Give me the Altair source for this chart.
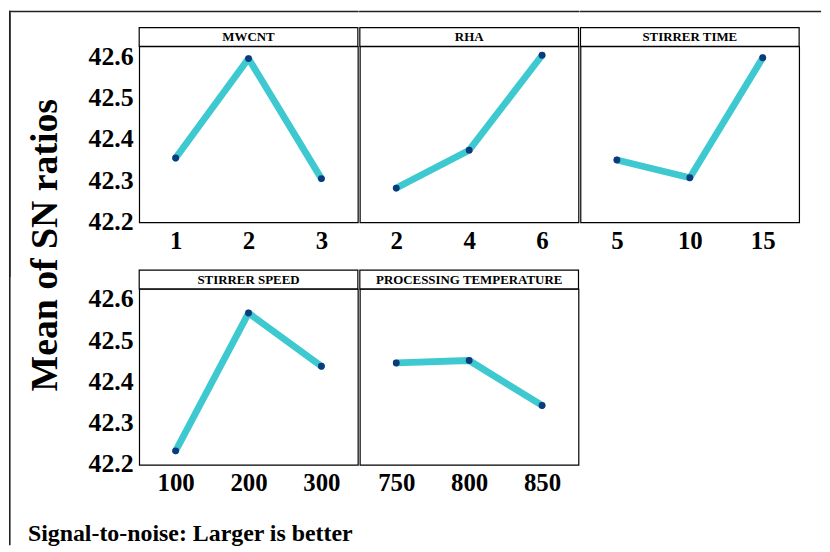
import altair as alt
import pandas as pd

FONT = "Liberation Serif"
CYAN = "#3ec9d1"
NAVY = "#0b3b7c"
BORDER = "#222222"

factor_names = ["MWCNT", "RHA", "STIRRER TIME", "STIRRER SPEED", "PROCESSING TEMPERATURE"]

mwcnt_levels = [1, 2, 3]
mwcnt_sn = [42.354, 42.595, 42.304]

rha_levels = [2, 4, 6]
rha_sn = [42.281, 42.373, 42.603]

time_levels = [5, 10, 15]
time_sn = [42.349, 42.306, 42.597]

speed_levels = [100, 200, 300]
speed_sn = [42.232, 42.566, 42.437]

temp_levels = [750, 800, 850]
temp_sn = [42.445, 42.451, 42.342]

y_title = "Mean of SN ratios"
footer = "Signal-to-noise: Larger is better"

y_ticks = [42.2, 42.3, 42.4, 42.5, 42.6]
y_domain = [42.198, 42.6245]

PW, PH, HH = 220, 177, 19      # panel plot size and strip height
ROW_GAP = 242                  # distance between the tops of the two rows of plots
FRAME_L = -131                 # outer frame, relative to the left edge of the first column
FRAME_T = -36                  # outer frame, relative to the top of the first row
ROW1_BOTTOM = 232
ROW2_TOP = 278                 # row 2 frame piece reaches up to the outer frame top
ROW2_BOTTOM = 258


def one_row():
    return pd.DataFrame({"a": [0]})


def frect(x1, x2, y1, y2):
    return alt.Chart(one_row()).mark_rect(color=BORDER).encode(
        x=alt.value(x1), x2=alt.value(x2), y=alt.value(y1), y2=alt.value(y2))


def text_at(t, x, y, **kw):
    return alt.Chart(pd.DataFrame({"t": [t]})).mark_text(
        font=FONT, fontWeight="bold", color="black", baseline="middle", **kw
    ).encode(text="t:N", x=alt.value(x), y=alt.value(y))


def panel(name, levels, sn, show_y, extras=()):
    lv = [str(v) for v in levels]
    df = pd.DataFrame({"level": lv, "sn": sn})
    x = alt.X(
        "level:O",
        sort=lv,
        scale=alt.Scale(type="point", padding=0.5),
        axis=alt.Axis(title=None, labelAngle=0, ticks=False, domain=False,
                      labelPadding=6, labelFont=FONT, labelFontSize=25,
                      labelFontWeight="bold", labelColor="black"),
    )
    if show_y:
        yaxis = alt.Axis(title=None, values=y_ticks, format=".1f", ticks=False,
                         domain=False, grid=False, labelPadding=6, labelFont=FONT,
                         labelFontSize=26, labelFontWeight="bold", labelColor="black")
    else:
        yaxis = None
    y = alt.Y("sn:Q", scale=alt.Scale(domain=y_domain, nice=False, zero=False), axis=yaxis)
    base = alt.Chart(df).encode(x=x, y=y)
    line = base.mark_line(color=CYAN, strokeWidth=6.8, strokeJoin="round", strokeCap="round")
    pts = base.mark_point(filled=True, size=48, color=NAVY, opacity=1)
    strip = alt.Chart(one_row()).mark_rect(fill="white", stroke="black", strokeWidth=1.2).encode(
        x=alt.value(0), x2=alt.value(PW), y=alt.value(-HH), y2=alt.value(0))
    label = text_at(name, PW / 2, -HH / 2 + 0.5, fontSize=13)
    return alt.layer(strip, label, line, pts, *extras).properties(width=PW, height=PH)


top_t = (FRAME_T, FRAME_T + 1.6)

row1 = alt.hconcat(
    panel(factor_names[0], mwcnt_levels, mwcnt_sn, True, extras=[
        frect(FRAME_L, PW + 0.8, *top_t),
        frect(FRAME_L, FRAME_L + 1.6, FRAME_T, ROW1_BOTTOM),
    ]),
    panel(factor_names[1], rha_levels, rha_sn, False, extras=[frect(-0.8, PW + 0.8, *top_t)]),
    panel(factor_names[2], time_levels, time_sn, False, extras=[frect(-0.8, PW + 22, *top_t)]),
    spacing=-4,
)
row2 = alt.hconcat(
    panel(factor_names[3], speed_levels, speed_sn, True, extras=[
        frect(FRAME_L, FRAME_L + 1.6, -ROW2_TOP, ROW2_BOTTOM),
        text_at(y_title, 45 - 139, 242 - 286, fontSize=38, angle=270, align="center"),
        text_at(footer, 27 - 139, 533 - 286, fontSize=24, align="left"),
    ]),
    panel(factor_names[4], temp_levels, temp_sn, False),
    spacing=-4,
)

chart = alt.vconcat(row1, row2, spacing=ROW_GAP - ROW1_BOTTOM - ROW2_TOP).properties(
    padding={"left": 0, "top": 0, "right": 0, "bottom": 0},
    background="white",
).configure_view(stroke="black", strokeWidth=1.2)

chart.save("out.html", embed_options={"renderer": "svg", "actions": False})
